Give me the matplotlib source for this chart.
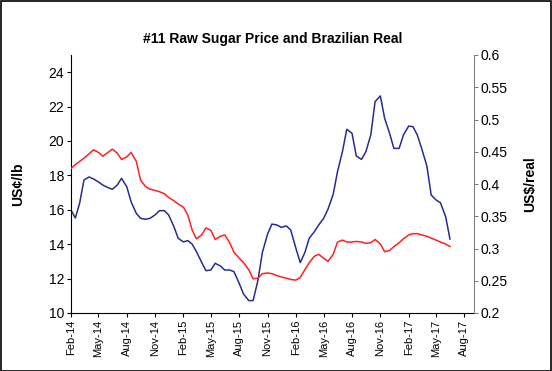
import pandas as pd
import matplotlib
matplotlib.use("Agg")
import matplotlib.pyplot as plt
import matplotlib.dates as mdates

plt.rcParams['font.family'] = ['Liberation Sans', 'DejaVu Sans']

# values, twice a month from Feb-14
sugar = [15.99, 15.52, 16.38, 17.73, 17.91, 17.79, 17.62, 17.44, 17.29, 17.19,
         17.44, 17.83, 17.34, 16.47, 15.79, 15.50, 15.45, 15.50, 15.70, 15.95,
         15.95, 15.70, 15.02, 14.34, 14.13, 14.21, 14.01, 13.57, 12.95, 12.46,
         12.50, 12.89, 12.73, 12.50, 12.50, 12.40, 11.72, 11.10, 10.72, 10.72,
         11.92, 13.51, 14.59, 15.17, 15.12, 14.98, 15.06, 14.83, 13.76, 12.93,
         13.51, 14.34, 14.73, 15.12, 15.50, 16.03, 16.90, 18.22, 19.38, 20.68,
         20.45, 19.13, 18.93, 19.38, 20.35, 22.29, 22.62, 21.32, 20.45, 19.57,
         19.57, 20.35, 20.87, 20.83, 20.35, 19.57, 18.55, 16.86, 16.57, 16.41,
         15.60, 14.30]
real = [0.424, 0.430, 0.435, 0.440, 0.447, 0.453, 0.449, 0.443, 0.449, 0.454,
        0.448, 0.438, 0.442, 0.449, 0.435, 0.406, 0.396, 0.392, 0.390, 0.388,
        0.385, 0.379, 0.374, 0.369, 0.364, 0.352, 0.329, 0.315, 0.321, 0.332,
        0.328, 0.314, 0.319, 0.321, 0.309, 0.294, 0.285, 0.278, 0.267, 0.253,
        0.254, 0.261, 0.262, 0.261, 0.258, 0.256, 0.254, 0.252, 0.251, 0.255,
        0.267, 0.278, 0.288, 0.291, 0.285, 0.280, 0.291, 0.310, 0.313, 0.310,
        0.310, 0.311, 0.310, 0.308, 0.309, 0.314, 0.307, 0.295, 0.297, 0.303,
        0.309, 0.315, 0.321, 0.323, 0.323, 0.321, 0.319, 0.316, 0.313, 0.310,
        0.307, 0.303]
dates = pd.date_range('2014-02-01', periods=len(sugar), freq='SMS')

left_ticks = [10, 12, 14, 16, 18, 20, 22, 24]
right_ticks = [0.2, 0.25, 0.3, 0.35, 0.4, 0.45, 0.5, 0.55, 0.6]

fig = plt.figure(figsize=(5.52, 3.71), dpi=100)
ax = fig.add_axes([71 / 552, 58 / 371, 403 / 552, 258 / 371])
ax2 = ax.twinx()

ax.plot(dates, sugar, color='#282c92', lw=1.1)
ax2.plot(dates, real, color='#ff2020', lw=1.1)

ax.set_xlim(pd.Timestamp('2014-02-01'), pd.Timestamp('2017-09-01'))
ax.set_ylim(10, 25)
ax2.set_ylim(0.2, 0.6)
ax.set_yticks(left_ticks)
ax2.set_yticks(right_ticks)
ax2.set_yticklabels([f'{t:g}' for t in right_ticks])

ax.xaxis.set_major_locator(mdates.MonthLocator(bymonth=[2, 5, 8, 11]))
ax.xaxis.set_major_formatter(mdates.DateFormatter('%b-%y'))
plt.setp(ax.get_xticklabels(), rotation=90, fontsize=8)

ax.tick_params(axis='y', labelsize=10, length=3, direction='out', pad=2)
ax.tick_params(axis='x', length=3, direction='out', pad=2)
ax2.tick_params(axis='y', labelsize=10, length=3, direction='out', pad=2, color='#808080')

for a in (ax, ax2):
    a.spines['top'].set_visible(False)
ax.spines['right'].set_visible(False)
ax2.spines['left'].set_visible(False)
ax2.spines['bottom'].set_visible(False)
ax2.spines['right'].set_color('#808080')

ax.set_ylabel('US¢/lb', fontsize=10, fontweight='bold')
ax.yaxis.set_label_coords(-46 / 403, 0.5)
ax2.set_ylabel('US$/real', fontsize=10, fontweight='bold')
ax2.yaxis.set_label_coords(1 + 49 / 403, 0.5)

ax.set_title('#11 Raw Sugar Price and Brazilian Real', fontsize=10, fontweight='bold', pad=9)

# black frame round the whole chart
fig.patches.append(plt.Rectangle((0.001, 0.001), 0.997, 0.996, transform=fig.transFigure,
                                 fill=False, edgecolor='black', lw=1.2))

plt.savefig('out.png', dpi=100)
